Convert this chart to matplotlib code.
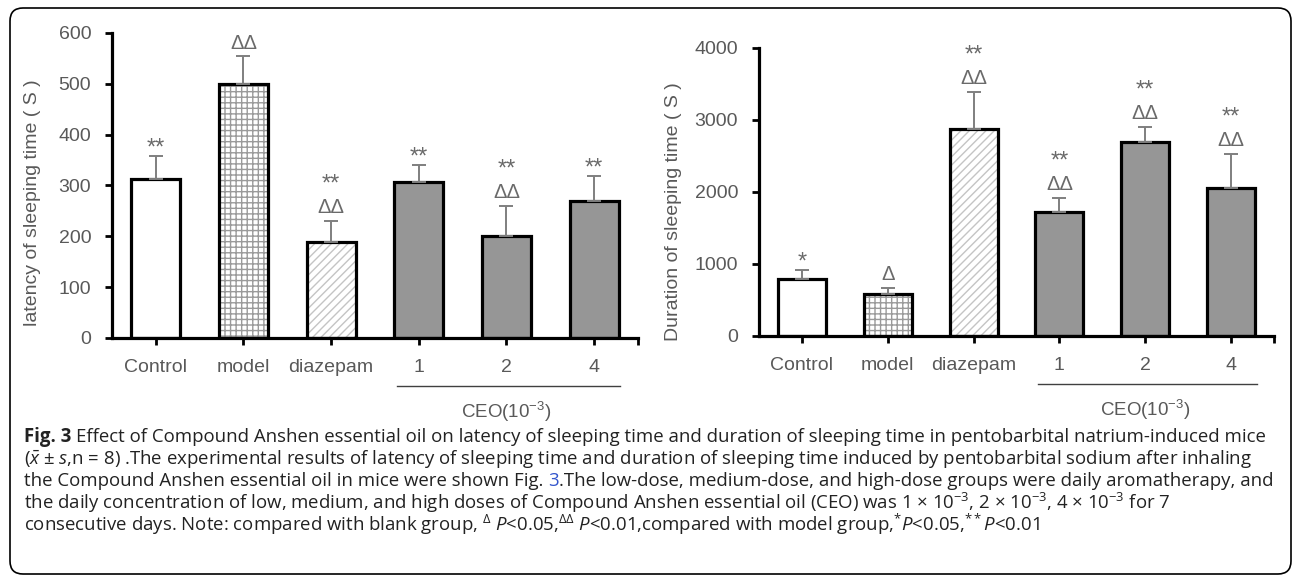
import numpy as np
import matplotlib
matplotlib.use("Agg")
import matplotlib.pyplot as plt
from matplotlib.patches import FancyBboxPatch

W, H, DPI = 1295, 578, 100

plt.rcParams["font.family"] = ["Liberation Sans", "DejaVu Sans"]
plt.rcParams["hatch.linewidth"] = 1.0
plt.rcParams["mathtext.fontset"] = "custom"
plt.rcParams["mathtext.rm"] = "Open Sans"
plt.rcParams["mathtext.it"] = "Open Sans:italic"
plt.rcParams["mathtext.bf"] = "Open Sans:bold"

# ---- data ----
groups = ["Control", "model", "diazepam", "1", "2", "4"]

latency_mean = [313, 500, 189, 307, 201, 270]
latency_sd = [46, 54, 41, 33, 59, 49]
latency_marks = [["**"], ["ΔΔ"], ["ΔΔ", "**"], ["**"], ["ΔΔ", "**"], ["**"]]

duration_mean = [791, 590, 2878, 1728, 2690, 2053]
duration_sd = [132, 77, 511, 187, 213, 480]
duration_marks = [["*"], ["Δ"], ["ΔΔ", "**"], ["ΔΔ", "**"], ["ΔΔ", "**"], ["ΔΔ", "**"]]

dose_label = "CEO(10$^{\\mathregular{-3}}$)"

GREY_TXT = "#595959"
BAR_GREY = "#969696"


def draw_panel(ax, means, sds, marks, ymax, ystep, h_px):
    x = np.arange(len(groups))
    w = 0.56
    for i in x:
        if i == 0:
            ax.bar(i, means[i], w, color="white", linewidth=0, zorder=2)
        elif i == 1:
            ax.bar(i, means[i], w, color="white", edgecolor="#9a9a9a", hatch="+++", linewidth=0, zorder=2)
        elif i == 2:
            ax.bar(i, means[i], w, color="white", edgecolor="#c4c4c4", hatch="////", linewidth=0, zorder=2)
        else:
            ax.bar(i, means[i], w, color=BAR_GREY, linewidth=0, zorder=2)
        ax.bar(i, means[i], w, facecolor="none", edgecolor="black", linewidth=2.3, zorder=3)

    ax.errorbar(x, means, yerr=[np.zeros(len(x)), sds], fmt="none", ecolor="#7f7f7f",
                elinewidth=1.4, capsize=5, capthick=1.4, zorder=4)

    # significance marks stacked above the error bars
    row_px = [15, 44]
    for i, labs in enumerate(marks):
        for j, lab in enumerate(labs):
            if "Δ" in lab:
                fs, frac = 14.5, 0.358
            else:
                fs, frac = 17, 0.574
            off_px = row_px[j] - frac * fs / 0.72
            ax.annotate(lab, (x[i], means[i] + sds[i]), xytext=(0, off_px * 0.72),
                        textcoords="offset points", ha="center", va="baseline",
                        fontsize=fs, color="#6a6a6a", zorder=5)

    ax.set_xlim(-0.5, 5.5)
    ax.set_ylim(0, ymax)
    ax.set_yticks(np.arange(0, ymax + 1, ystep))
    ax.set_xticks(x, groups)
    ax.set_xticks([5.5], minor=True)
    for s in ["top", "right"]:
        ax.spines[s].set_visible(False)
    for s in ["left", "bottom"]:
        ax.spines[s].set_linewidth(2.3)
    ax.tick_params(axis="x", which="both", length=5, width=2, pad=10, labelsize=14, labelcolor=GREY_TXT)
    ax.tick_params(axis="y", length=5, width=2, pad=10, labelsize=14, labelcolor=GREY_TXT)

    # bracket under the CEO dose groups
    yb = -48 / h_px
    ax.plot([2.75, 5.3], [yb, yb], color="#404040", linewidth=1,
            transform=ax.get_xaxis_transform(), clip_on=False)
    ax.text(4.0, -74 / h_px, dose_label, transform=ax.get_xaxis_transform(),
            ha="center", va="center", fontsize=13.5, color=GREY_TXT)


fig = plt.figure(figsize=(W / DPI, H / DPI), dpi=DPI)

ax1 = fig.add_axes([112 / W, 1 - 338 / H, 526 / W, 305 / H])
ax2 = fig.add_axes([759 / W, 1 - 336 / H, 515 / W, 288 / H])

draw_panel(ax1, latency_mean, latency_sd, latency_marks, 600, 100, 305)
draw_panel(ax2, duration_mean, duration_sd, duration_marks, 4000, 1000, 288)

fig.text(33 / W, 1 - 203 / H, "latency of sleeping time ( S )", rotation=90,
         ha="center", va="center", fontsize=14, color=GREY_TXT)
fig.text(673 / W, 1 - 212 / H, "Duration of sleeping time ( S )", rotation=90,
         ha="center", va="center", fontsize=14, color=GREY_TXT)

# outer rounded frame
frame = FancyBboxPatch((10 / DPI, 4 / DPI), 1281 / DPI, 566 / DPI,
                       boxstyle="round,pad=0,rounding_size=0.13",
                       transform=fig.dpi_scale_trans, facecolor="none",
                       edgecolor="black", linewidth=1.2)
fig.add_artist(frame)

# caption, drawn run by run
renderer = fig.canvas.get_renderer()
CAP_FS = 13.4


def text_w(s, **kw):
    t = fig.text(0, 0, s, fontsize=CAP_FS, family="Open Sans", **kw)
    wd = t.get_window_extent(renderer).width
    t.remove()
    return wd


SPACE = text_w("a a") - text_w("aa")


def put_line(y_px, runs, x_px=24):
    x = x_px
    for s, kw in runs:
        if s == " ":
            x += SPACE
            continue
        kw = dict(kw)
        col = kw.pop("color", "#222222")
        t = fig.text(x / W, 1 - y_px / H, s, fontsize=CAP_FS, family="Open Sans",
                     ha="left", va="baseline", color=col, **kw)
        x += t.get_window_extent(renderer).width


put_line(442, [("Fig. 3", {"fontweight": "bold"}), (" ", {}),
               ("Effect of Compound Anshen essential oil on latency of sleeping time and duration of "
                "sleeping time in pentobarbital natrium-induced mice", {})])
put_line(464, [("($\\bar{x}$ ± $s$,n = 8) .The experimental results of latency of sleeping time and "
                "duration of sleeping time induced by pentobarbital sodium after inhaling", {})])
put_line(486.5, [("the Compound Anshen essential oil in mice were shown Fig.", {}), (" ", {}),
                 ("3", {"color": "#3355cc"}),
                 (".The low-dose, medium-dose, and high-dose groups were daily aromatherapy, and", {})])
put_line(509, [("the daily concentration of low, medium, and high doses of Compound Anshen essential oil "
                "(CEO) was 1 × 10$^{-3}$, 2 × 10$^{-3}$, 4 × 10$^{-3}$ for 7", {})])
put_line(531, [("consecutive days. Note: compared with blank group, $^{\\Delta}$ $P$<0.05,"
                "$^{\\Delta\\Delta}$ $P$<0.01,compared with model group,$^{*}$$P$<0.05,$^{**}$$P$<0.01", {})])

fig.savefig("out.png", dpi=DPI)
